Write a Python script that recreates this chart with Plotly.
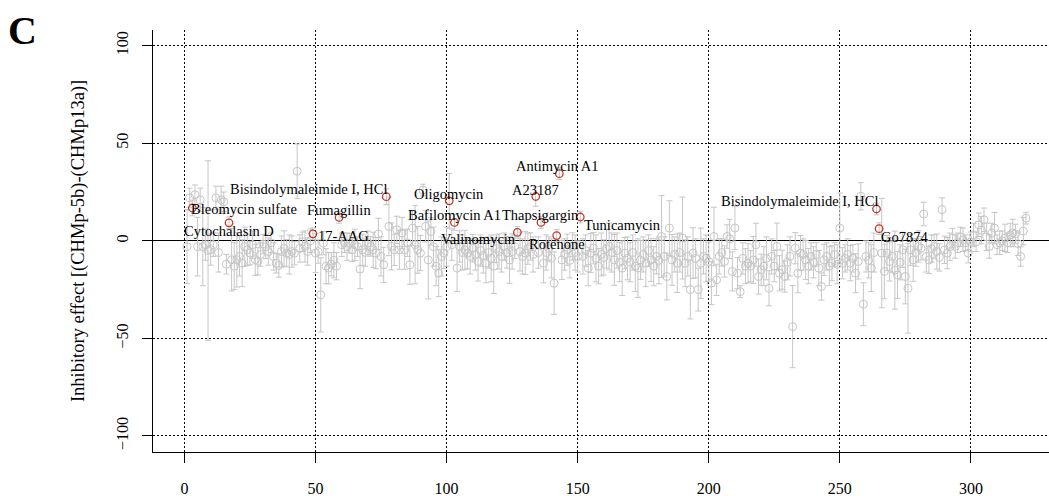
import plotly.graph_objects as go

# ---------------- data ----------------
compound_index = list(range(1, 322))

effect = [
    -3, 22, 16.8, 23.6, -3, 21, -3, -2, -5, -4.5,
    -2, 22, -6, 21, 20, -12, 9.2, -9.7, -13, -9.7,
    -8, -11.5, -3, -4.6, -6.3, -2, -9.7, -10.5, -7, -1.7,
    -3, -5.5, -1, -8, -11.5, -12.6, -5.5, -3.9, -6.3, -7,
    -5.5, -6.3, 35.6, -3.9, -0.5, -2.9, -5.5, 0, 3.6, -6.3,
    -5.5, -27.7, -1.2, -13, -14, -12, -10, -13, 12, -2,
    -1, -3, -1.2, -4.6, -2, -3, -14.5, -4.6, -6, -1,
    -2.9, -4.6, -6.3, 3.5, -8, -12.3, 22.6, 7.4, -2.9, -4.6,
    5.6, -4.6, 4, -4.6, -1, -12.3, 6.5, -2, -4.6, -6.3,
    26, 7.4, -9.8, 4.8, -3, -13, -16.6, -8, -6.3, -3,
    20.5, -2, 9.4, -14, -2.9, -6, -4.6, -6.3, -8, -3.8,
    -7, -10.6, -5, -7.5, -11.5, -6, -9, -13, -4, -5.5,
    -8, -3, -6, -9.8, -5.5, -3, 4.3, -5.5, -8, -6.3,
    -4, -2.9, -7, 22.7, -6, 9.4, -11.5, -6, -4, -9,
    -21.7, 2.7, 34.4, -9.8, -7, -4.6, -10, -2.9, -6, -8,
    12.2, -8, -5, -14, -6.3, -3.8, -9, -13, -7, -8.5,
    -4, -2.9, -6, -9.8, -5, -11, -14, -6.3, -9, -11,
    -6, -13, -14, -9.8, -7, -11.5, -5, -9.8, -13, -8,
    -10, 2.2, -8, -18.3, 6.5, -9.8, -7, -11.5, -6, 1.4,
    -11.5, -8, -25, -6.3, -9, -25, -11.5, -8, -9, -10.6,
    -21.7, 2.2, -20, -8, -6, -10.6, 2.2, 1, -15.7, 6.5,
    -16.6, -26, -9, -13, -11.5, -13, -9.8, -2, -18.3, -14.8,
    -13, -9, -24.3, -8, -13, -2.9, -16.6, -14.8, -18.3, -11,
    -8, -44, -3.8, -16.6, -6.3, -7, -9.8, -13, -8, -11,
    -7, -14, -23.4, -9.8, -8, -13, -11.5, -7, -12, 6.5,
    -11.5, -9, -7, -11.5, -9, -16.6, -10.6, 22.8, -32.5, -8,
    -10, -14, -6, 16.3, 6.2, -6.3, -15.7, -6.3, -10.6, -8,
    -15, -17.5, -11, -4.6, -18.3, -24.3, -4.6, -9.8, -6, -2.9,
    -3.8, 13.7, -8, -9.8, -4, -2.9, -5.5, -8.5, 16, -4.6,
    -6.3, -3, 1.4, -2.9, -1, 2, 0.5, -1, -6.3, -0.5,
    3, -0.5, 8.2, 5.5, 10.8, 2, -2.9, 4, 6.5, -2,
    -1, 0, 1.5, -1, 3, 4, 3.5, -1.5, -8, 5, 11.6,
]

effect_err = [
    19, 5, 4, 5, 15, 6, 20, 8, 46, 8,
    6, 6, 10, 7, 5, 5, 3, 16, 12, 14,
    10, 12, 10, 8, 6, 7, 8, 7, 6, 5,
    6, 7, 5, 7, 5, 6, 8, 9, 7, 10,
    8, 6, 14, 7, 5, 8, 7, 6, 3, 10,
    6, 19, 6, 9, 8, 6, 9, 7, 3, 6,
    5, 7, 5, 6, 8, 5, 10, 8, 7, 6,
    5, 9, 8, 8, 10, 9, 4, 15, 12, 8,
    7, 10, 8, 10, 7, 10, 9, 20, 12, 9,
    3, 8, 20, 7, 10, 10, 12, 10, 8, 10,
    14, 8, 4, 12, 8, 9, 10, 8, 9, 7,
    8, 10, 8, 9, 10, 8, 12, 14, 7, 9,
    8, 7, 8, 12, 9, 6, 3, 10, 9, 11,
    8, 7, 9, 5, 8, 3, 10, 9, 6, 10,
    16, 3, 3, 10, 8, 8, 9, 7, 9, 8,
    3, 9, 8, 9, 10, 8, 12, 9, 11, 9,
    10, 12, 10, 13, 9, 10, 14, 8, 11, 10,
    9, 13, 15, 10, 9, 12, 8, 11, 10, 9,
    12, 21, 10, 12, 14, 13, 9, 15, 10, 21,
    12, 10, 15, 13, 10, 11, 18, 9, 12, 10,
    11, 15, 8, 9, 7, 8, 6, 10, 10, 11,
    8, 3, 8, 9, 10, 8, 12, 11, 9, 8,
    10, 11, 9, 9, 8, 12, 9, 10, 8, 9,
    10, 21, 8, 10, 9, 8, 10, 9, 7, 8,
    6, 9, 7, 8, 7, 10, 9, 6, 10, 18,
    8, 7, 8, 9, 7, 10, 9, 7, 11, 8,
    9, 12, 10, 3, 3, 28, 14, 9, 10, 8,
    20, 12, 9, 9, 14, 23, 8, 11, 7, 8,
    6, 6, 8, 7, 7, 6, 9, 7, 6, 7,
    8, 7, 5, 6, 5, 5, 6, 4, 5, 5,
    6, 5, 6, 7, 6, 7, 6, 5, 8, 5,
    6, 5, 7, 5, 6, 7, 5, 6, 5, 7, 3,
]

highlight_index = [3, 17, 49, 59, 77, 101, 103, 127, 134, 136, 142, 143, 151, 264, 265]
highlight_name = [
    "Bleomycin sulfate", "Cytochalasin D", "17-AAG", "Fumagillin",
    "Bisindolymaleimide I, HCl", "Oligomycin", "Bafilomycin A1", "Valinomycin",
    "A23187", "Thapsigargin", "Rotenone", "Antimycin A1", "Tunicamycin",
    "Bisindolymaleimide I, HCl", "Go7874",
]
# label placement relative to the point (style only)
label_xanchor = ["left", "center", "left", "center", "right", "center", "center", "right",
                 "center", "center", "center", "center", "left", "right", "left"]
label_xshift = [-3, 0, 3, 0, 3, 0, 0, 1, 0, 0, 0, -2, 2, 3, 0]
label_yshift = [-1, -8, -2, 7, 8, 7, 7, -7, 7, 7, -8, 8, -8, 8, -8]

x_ticks = [0, 50, 100, 150, 200, 250, 300]
y_ticks = [-100, -50, 0, 50, 100]

assert len(effect) == len(compound_index) == len(effect_err)

# ---------------- figure ----------------
hl_set = set(highlight_index)
gx = [i for i in compound_index if i not in hl_set]
gy = [effect[i - 1] for i in gx]
ge = [effect_err[i - 1] for i in gx]
rx = highlight_index
ry = [effect[i - 1] for i in rx]
re_ = [effect_err[i - 1] for i in rx]

GRAY = "#c6c6c6"
RED = "#c0392b"
SERIF = "Liberation Serif, Times New Roman, serif"

fig = go.Figure()
fig.add_trace(go.Scatter(
    x=gx, y=gy, mode="markers",
    marker=dict(symbol="circle-open", size=8, color=GRAY, line=dict(width=1, color=GRAY)),
    error_y=dict(type="data", array=ge, visible=True, color=GRAY, thickness=1, width=3),
    showlegend=False, hoverinfo="x+y",
))
fig.add_trace(go.Scatter(
    x=rx, y=ry, mode="markers",
    marker=dict(symbol="circle-open", size=7.5, color=RED, line=dict(width=1.3, color=RED)),
    error_y=dict(type="data", array=re_, visible=True, color=GRAY, thickness=1, width=3),
    showlegend=False, hoverinfo="x+y",
))

annotations = []
for xi, yi, name, xa, dx, dy in zip(rx, ry, highlight_name, label_xanchor, label_xshift, label_yshift):
    annotations.append(dict(
        x=xi, y=yi, xref="x", yref="y", text=name, showarrow=False,
        xanchor=xa, yanchor="middle", xshift=dx, yshift=dy,
        font=dict(family=SERIF, size=14.5, color="black"),
    ))

annotations.append(dict(
    x=-0.0836, y=0.5, xref="paper", yref="paper",
    text="Inhibitory effect [(CHMp-5b)-(CHMp13a)]", textangle=-90, showarrow=False,
    xanchor="center", yanchor="middle",
    font=dict(family=SERIF, size=18.5, color="black"),
))
annotations.append(dict(
    x=-0.146, y=1.0, xref="paper", yref="paper",
    text="<b>C</b>", showarrow=False, xanchor="center", yanchor="middle",
    font=dict(family=SERIF, size=40, color="black"),
))

fig.update_layout(
    width=1049, height=496,
    margin=dict(l=153, r=0, t=30, b=44),
    paper_bgcolor="white", plot_bgcolor="white",
    annotations=annotations,
    font=dict(family=SERIF, color="black"),
)
fig.update_xaxes(
    range=[-12, 329.8], tickmode="array", tickvals=x_ticks,
    showgrid=True, gridcolor="black", gridwidth=1, griddash="2px,2px",
    zeroline=False, showline=True, linecolor="black", linewidth=1,
    ticks="outside", ticklen=10, tickcolor="black", tickwidth=1,
    tickfont=dict(family=SERIF, size=16, color="black"), ticklabelstandoff=12,
)
fig.update_yaxes(
    range=[-108.2, 108], tickmode="array", tickvals=y_ticks,
    showgrid=True, gridcolor="black", gridwidth=1, griddash="2px,2px",
    zeroline=True, zerolinecolor="black", zerolinewidth=1.3,
    showline=True, linecolor="black", linewidth=1,
    ticks="outside", ticklen=10, tickcolor="black", tickwidth=1, tickangle=-90,
    tickfont=dict(family=SERIF, size=16, color="black"), ticklabelstandoff=8,
)

fig.write_html("out.html")
